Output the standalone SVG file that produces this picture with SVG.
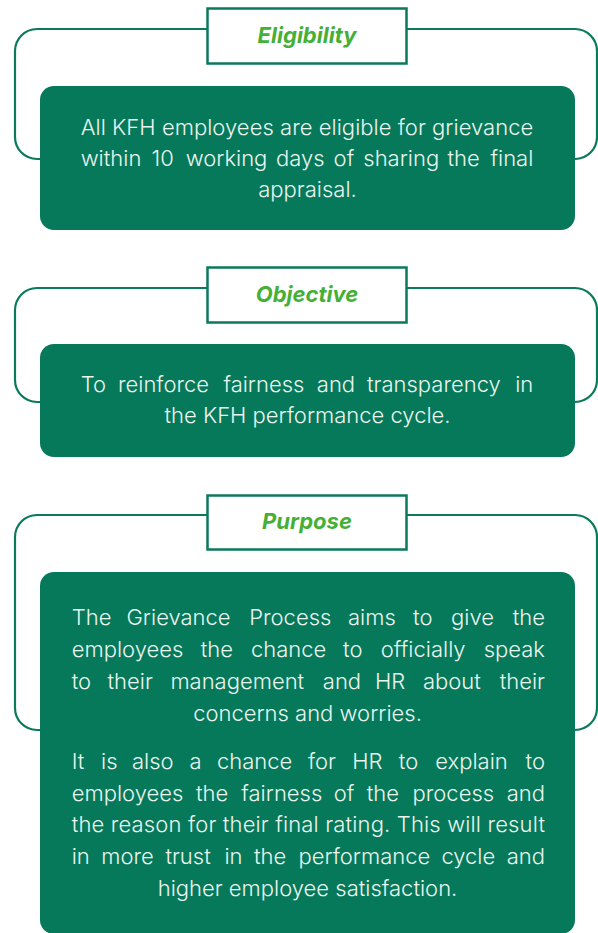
<svg xmlns="http://www.w3.org/2000/svg" width="598" height="933" viewBox="0 0 598 933">
<style>
.bracket{fill:none;stroke:#0a7a5b;stroke-width:2.2}
.tbox{fill:#ffffff;stroke:#0a7a5b;stroke-width:2.5}
.card{fill:#06795b}
.title{font-family:Inter,"Noto Sans","Liberation Sans",sans-serif;font-size:22px;font-weight:700;font-style:italic;fill:#45b035;text-anchor:middle}
.body{font-family:Inter,"Noto Sans","Liberation Sans",sans-serif;font-size:22px;font-weight:300;fill:#eaf5ef}
.mid{text-anchor:middle}
.end{text-anchor:end}
</style>
<rect width="598" height="933" fill="#ffffff"/>
<g id="connectors">
<path class="bracket" d="M207,29 H37 A22,22 0 0 0 15,51 V137 A22,22 0 0 0 37,159 H44"/>
<path class="bracket" d="M407,29 H575 A22,22 0 0 1 597,51 V137 A22,22 0 0 1 575,159 H570"/>
<path class="bracket" d="M207,288 H37 A22,22 0 0 0 15,310 V380 A22,22 0 0 0 37,402 H44"/>
<path class="bracket" d="M407,288 H575 A22,22 0 0 1 597,310 V380 A22,22 0 0 1 575,402 H570"/>
<path class="bracket" d="M207,515 H37 A22,22 0 0 0 15,537 V708 A22,22 0 0 0 37,730 H44"/>
<path class="bracket" d="M407,515 H575 A22,22 0 0 1 597,537 V708 A22,22 0 0 1 575,730 H570"/>
</g>
<g id="eligibility-title">
<rect class="tbox" x="207.5" y="8.5" width="199" height="55"/>
<text class="title" x="307" y="43">Eligibility</text>
</g>
<g id="eligibility-card">
<rect class="card" x="40" y="86" width="535" height="144" rx="14"/>
<text class="body" x="80.7" y="135" textLength="452.6" lengthAdjust="spacing">All KFH employees are eligible for grievance</text>
<text class="body" y="166"><tspan x="80.7">within</tspan><tspan x="151.5">10</tspan><tspan x="185.7">working</tspan><tspan x="276">days</tspan><tspan x="333.6">of</tspan><tspan x="363.3">sharing</tspan><tspan x="447.4">the</tspan></text>
<text class="body end" x="533.3" y="166">final</text>
<text class="body mid" x="307.5" y="197">appraisal.</text>
</g>
<g id="objective-title">
<rect class="tbox" x="207.5" y="267.5" width="199" height="55"/>
<text class="title" x="307" y="302">Objective</text>
</g>
<g id="objective-card">
<rect class="card" x="40" y="344" width="535" height="113" rx="14"/>
<text class="body" y="392"><tspan x="80.7">To</tspan><tspan x="118">reinforce</tspan><tspan x="223.4">fairness</tspan><tspan x="316.8">and</tspan><tspan x="367">transparency</tspan></text>
<text class="body end" x="533.3" y="392">in</text>
<text class="body mid" x="307.5" y="423">the KFH performance cycle.</text>
</g>
<g id="purpose-title">
<rect class="tbox" x="207.5" y="495.5" width="199" height="54"/>
<text class="title" x="307" y="529">Purpose</text>
</g>
<g id="purpose-card">
<rect class="card" x="40" y="572" width="535" height="362" rx="14"/>
<text class="body" y="625"><tspan x="71.7">The</tspan><tspan x="126.5">Grievance</tspan><tspan x="249.2">Process</tspan><tspan x="348">aims</tspan><tspan x="413">to</tspan><tspan x="451">give</tspan></text>
<text class="body end" x="545" y="625">the</text>
<text class="body" y="657"><tspan x="71.7">employees</tspan><tspan x="200.7">the</tspan><tspan x="251">chance</tspan><tspan x="343">to</tspan><tspan x="380.8">officially</tspan></text>
<text class="body end" x="545" y="657">speak</text>
<text class="body" y="689"><tspan x="71.7">to</tspan><tspan x="107.5">their</tspan><tspan x="170.4">management</tspan><tspan x="322.8">and</tspan><tspan x="375">HR</tspan><tspan x="423">about</tspan></text>
<text class="body end" x="545" y="689">their</text>
<text class="body mid" x="307.5" y="721">concerns and worries.</text>
<text class="body" y="769"><tspan x="71.7">It</tspan><tspan x="101">is</tspan><tspan x="132">also</tspan><tspan x="189.5">a</tspan><tspan x="217">chance</tspan><tspan x="308">for</tspan><tspan x="352.2">HR</tspan><tspan x="398.8">to</tspan><tspan x="435.3">explain</tspan></text>
<text class="body end" x="545" y="769">to</text>
<text class="body" y="801"><tspan x="71.7">employees</tspan><tspan x="196">the</tspan><tspan x="241.3">fairness</tspan><tspan x="333.8">of</tspan><tspan x="366.8">the</tspan><tspan x="412.5">process</tspan></text>
<text class="body end" x="545" y="801">and</text>
<text class="body" x="71.7" y="832" textLength="473.3" lengthAdjust="spacing">the reason for their final rating. This will result</text>
<text class="body" y="864"><tspan x="71.7">in</tspan><tspan x="101.3">more</tspan><tspan x="165.4">trust</tspan><tspan x="224.4">in</tspan><tspan x="254">the</tspan><tspan x="298.5">performance</tspan><tspan x="441.4">cycle</tspan></text>
<text class="body end" x="545" y="864">and</text>
<text class="body mid" x="307.5" y="896">higher employee satisfaction.</text>
</g>
</svg>
